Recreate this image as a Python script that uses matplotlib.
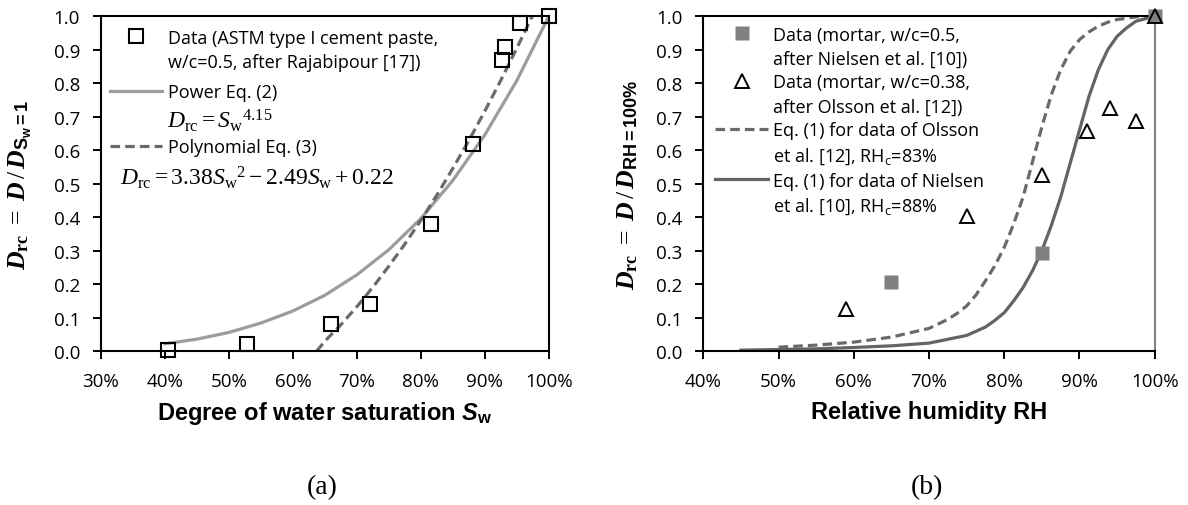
import matplotlib
matplotlib.use("Agg")
import matplotlib.pyplot as plt
from matplotlib.lines import Line2D
from matplotlib.ticker import FuncFormatter

# fonts: serif math like Cambria Math, sans like Calibri / Arial
plt.rcParams["mathtext.fontset"] = "custom"
plt.rcParams["mathtext.rm"] = "Liberation Serif"
plt.rcParams["mathtext.it"] = "Liberation Serif:italic"
plt.rcParams["mathtext.bf"] = "Liberation Serif:bold"
plt.rcParams["mathtext.tt"] = "Liberation Serif:italic:bold"
plt.rcParams["mathtext.cal"] = "Liberation Sans:italic:bold"
plt.rcParams["font.family"] = ["Open Sans", "DejaVu Sans"]

# ---- (a) data, degree of water saturation in %
sw_data = [40.5, 52.8, 65.9, 72.1, 81.6, 88.2, 92.7, 93.1, 95.5, 100.0]
drc_data = [0.004, 0.02, 0.08, 0.142, 0.38, 0.617, 0.87, 0.907, 0.98, 1.0]

sw_power = [40, 45, 50, 55, 60, 65, 70, 75, 80, 85, 90, 95, 100]
drc_power = [0.022, 0.036, 0.056, 0.084, 0.12, 0.167, 0.228, 0.303, 0.396,
             0.51, 0.646, 0.808, 1.0]

sw_poly = [63.7, 65, 67.5, 70, 72.5, 75, 77.5, 80, 82.5, 85, 87.5, 90, 92.5,
           95, 97.4]
drc_poly = [0.0, 0.03, 0.079, 0.133, 0.191, 0.254, 0.32, 0.391, 0.466, 0.546,
            0.629, 0.717, 0.809, 0.905, 1.0]

# ---- (b) data, relative humidity in %
rh_nielsen = [65, 85, 100]
drc_nielsen = [0.207, 0.293, 1.0]
rh_olsson = [59, 75, 85, 91, 94, 97.5, 100]
drc_olsson = [0.127, 0.405, 0.527, 0.657, 0.727, 0.686, 1.0]

rh_fit_olsson = [50, 55, 60, 65, 70, 72.5, 73.75, 75, 76.25, 77.5, 78.75, 80,
                 81.25, 82.5, 83.75, 85, 86.25, 87.5, 88.75, 90, 91.25, 92.5,
                 93.75, 95, 97.5, 100]
drc_fit_olsson = [0.012, 0.018, 0.027, 0.042, 0.068, 0.095, 0.113, 0.135,
                  0.168, 0.21, 0.255, 0.31, 0.38, 0.46, 0.565, 0.67, 0.765,
                  0.84, 0.895, 0.93, 0.953, 0.97, 0.982, 0.99, 0.998, 1.0]

rh_fit_nielsen = [45, 50, 55, 60, 65, 70, 75, 77.5, 78.75, 80, 81.25, 82.5,
                  83.75, 85, 86.25, 87.5, 88.75, 90, 91.25, 92.5, 93.75, 95,
                  96.25, 97.5, 100]
drc_fit_nielsen = [0.003, 0.005, 0.007, 0.011, 0.016, 0.024, 0.047, 0.072,
                   0.092, 0.115, 0.15, 0.19, 0.24, 0.30, 0.375, 0.46, 0.56,
                   0.66, 0.76, 0.84, 0.90, 0.94, 0.965, 0.985, 1.0]

yticks = [0.0, 0.1, 0.2, 0.3, 0.4, 0.5, 0.6, 0.7, 0.8, 0.9, 1.0]

c_power = "#9c9c9c"
c_dash = "#6a6a6a"
c_solid = "#646464"
c_grey_sq = "#808080"

leg_kw = dict(frameon=False, prop={"family": "Open Sans", "size": 13},
              handlelength=2.9, handletextpad=0.3, borderpad=0, borderaxespad=0)

fig = plt.figure(figsize=(11.88, 5.06), dpi=100)
ax1 = fig.add_axes([0.085, 0.304, 0.377, 0.662])
ax2 = fig.add_axes([0.592, 0.304, 0.380, 0.662])

pct = FuncFormatter(lambda v, p: f"{v:.0f}%")
one_dec = FuncFormatter(lambda v, p: f"{v:.1f}")


def style_axes(ax, xmin, right_color):
    ax.set_xlim(xmin, 100)
    ax.set_ylim(0, 1.0)
    ax.set_xticks(range(xmin, 101, 10))
    ax.set_yticks(yticks)
    ax.xaxis.set_major_formatter(pct)
    ax.yaxis.set_major_formatter(one_dec)
    ax.tick_params(direction="out", length=6, width=1.4, pad=9, labelsize=13.5)
    for s in ["left", "bottom", "top"]:
        ax.spines[s].set_linewidth(1.5)
        ax.spines[s].set_color("black")
    ax.spines["right"].set_linewidth(1.5)
    ax.spines["right"].set_color(right_color)


blank = Line2D([], [], ls="none")

# (a)
style_axes(ax1, 30, "black")
ax1.plot(sw_power, drc_power, color=c_power, lw=2.3, zorder=2)
ax1.plot(sw_poly, drc_poly, color=c_dash, lw=2.3, dashes=(3, 1.6), zorder=2)
ax1.plot(sw_data, drc_data, ls="none", marker="s", ms=9.5, mfc="none",
         mec="black", mew=1.5, zorder=3, clip_on=False)

ax1.set_xlabel(r"Degree of water saturation $\mathcal{S}_{\mathregular{w}}$",
               family="Liberation Sans", fontweight="bold", fontsize=17)
ax1.xaxis.label.set_va("center")
ax1.xaxis.set_label_coords(0.5, -0.182)
ax1.set_ylabel(r"$\mathtt{D}_{\mathbf{rc}}\ =\ \mathtt{D}\,/\,\mathtt{D}_{\mathregular{S_w{=}1}}$",
               family="Liberation Sans", fontweight="bold", fontsize=18.5)
ax1.yaxis.label.set_va("center")
ax1.yaxis.set_label_coords(-0.18, 0.5)

# legend of (a) in three parts, as the entries are not evenly spaced
leg_data = ax1.legend(
    [Line2D([], [], ls="none", marker="s", ms=9.5, mfc="none", mec="black", mew=1.5), blank],
    ["Data (ASTM type I cement paste,", "w/c=0.5, after Rajabipour [17])"],
    loc="upper left", bbox_to_anchor=(0.02, 0.963), labelspacing=0.37, **leg_kw)
ax1.add_artist(leg_data)
leg_pow = ax1.legend([Line2D([], [], color=c_power, lw=2.3)], ["Power Eq. (2)"],
                     loc="center left", bbox_to_anchor=(0.02, 0.773), **leg_kw)
ax1.add_artist(leg_pow)
ax1.legend([Line2D([], [], color=c_dash, lw=2.3, dashes=(3, 1.6))],
           ["Polynomial Eq. (3)"], loc="center left",
           bbox_to_anchor=(0.02, 0.609), **leg_kw)

ax1.text(0.147, 0.69, r"$D_{\mathrm{rc}} = {S_{\mathrm{w}}}^{4.15}$",
         transform=ax1.transAxes, va="center", ha="left", fontsize=17)
ax1.text(0.042, 0.519,
         r"$D_{\mathrm{rc}} = 3.38{S_{\mathrm{w}}}^{2} - 2.49S_{\mathrm{w}} + 0.22$",
         transform=ax1.transAxes, va="center", ha="left", fontsize=17)

# (b)
style_axes(ax2, 40, "#808080")
ax2.plot(rh_fit_olsson, drc_fit_olsson, color=c_dash, lw=2.3, dashes=(3, 1.6), zorder=2)
ax2.plot(rh_fit_nielsen, drc_fit_nielsen, color=c_solid, lw=2.3, zorder=2)
ax2.plot(rh_nielsen, drc_nielsen, ls="none", marker="s", ms=10.5, color=c_grey_sq,
         mec="none", zorder=3, clip_on=False)
ax2.plot(rh_olsson, drc_olsson, ls="none", marker="^", ms=10, mfc="none",
         mec="black", mew=1.4, zorder=4, clip_on=False)

ax2.set_xlabel("Relative humidity RH", family="Liberation Sans",
               fontweight="bold", fontsize=17)
ax2.xaxis.label.set_va("center")
ax2.xaxis.set_label_coords(0.5, -0.179)
ax2.set_ylabel(r"$\mathtt{D}_{\mathbf{rc}}\ =\ \mathtt{D}\,/\,\mathtt{D}_{\mathregular{RH{=}100\%}}$",
               family="Liberation Sans", fontweight="bold", fontsize=18.5)
ax2.yaxis.label.set_va("center")
ax2.yaxis.set_label_coords(-0.168, 0.5)

# each label split in two lines, handle on the first line
h_b = [Line2D([], [], ls="none", marker="s", ms=10.5, color=c_grey_sq, mec="none"), blank,
       Line2D([], [], ls="none", marker="^", ms=10, mfc="none", mec="black", mew=1.4), blank,
       Line2D([], [], color=c_dash, lw=2.3, dashes=(3, 1.6)), blank,
       Line2D([], [], color=c_solid, lw=2.3), blank]
l_b = ["Data (mortar, w/c=0.5,", "after Nielsen et al. [10])",
       "Data (mortar, w/c=0.38,", "after Olsson et al. [12])",
       "Eq. (1) for data of Olsson", "et al. [12], $\\mathregular{RH_c}$=83%",
       "Eq. (1) for data of Nielsen", "et al. [10], $\\mathregular{RH_c}$=88%"]
ax2.legend(h_b, l_b, loc="upper left", bbox_to_anchor=(0.027, 0.972),
           labelspacing=0.33, **leg_kw)

fig.text(322 / 1188, 1 - 488 / 506, "(a)", family="Liberation Serif",
         fontsize=20, ha="center", va="center")
fig.text(927 / 1188, 1 - 488 / 506, "(b)", family="Liberation Serif",
         fontsize=20, ha="center", va="center")

fig.savefig("out.png", dpi=100)
